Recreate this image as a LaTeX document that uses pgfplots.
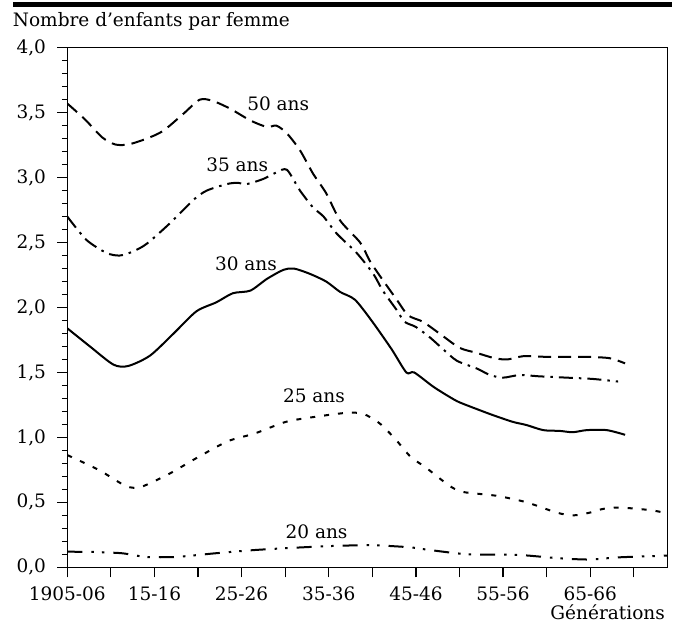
\documentclass[border=0pt]{standalone}
\usepackage{fontspec}
\setmainfont{DejaVu Serif}
\usepackage{pgfplots}
\pgfplotsset{compat=1.18}

% descendance atteinte a chaque age, par generation
\pgfplotstableread{
x y
1905 3.57
1907 3.45
1909 3.31
1910.5 3.255
1912 3.255
1914.1 3.30
1916 3.36
1918.3 3.49
1920.2 3.60
1921.7 3.59
1923.7 3.53
1926 3.44
1927.9 3.39
1929 3.40
1930.2 3.34
1931.7 3.21
1933.2 3.03
1934.7 2.88
1936.3 2.67
1938.6 2.50
1939.7 2.36
1940.9 2.24
1942.8 2.06
1944.1 1.94
1945.8 1.89
1947.7 1.80
1950 1.69
1952 1.65
1954 1.61
1955.5 1.60
1957.3 1.625
1960 1.62
1962.3 1.62
1964.6 1.62
1967.2 1.61
1969 1.57
}\ansL

\pgfplotstableread{
x y
1905 2.70
1907.2 2.52
1909.5 2.42
1911 2.40
1912.5 2.43
1914.1 2.49
1916.8 2.65
1919.5 2.83
1921 2.90
1923.3 2.95
1924.5 2.96
1925.6 2.95
1927.5 2.99
1929 3.04
1930.2 3.06
1931.7 2.90
1933.2 2.77
1934.4 2.70
1935.9 2.57
1938.2 2.42
1940.1 2.26
1941.2 2.13
1942.8 1.98
1943.7 1.89
1945 1.85
1946.6 1.77
1948.1 1.68
1949.7 1.59
1952 1.53
1953.5 1.48
1955 1.46
1956.9 1.48
1959.2 1.47
1962.3 1.46
1965.3 1.45
1968.2 1.43
}\ansXXXV

\pgfplotstableread{
x y
1905 1.84
1907.6 1.70
1910.3 1.56
1912 1.55
1914.5 1.63
1917.2 1.80
1919.8 1.97
1922.1 2.04
1924 2.11
1926 2.13
1927.9 2.22
1929.8 2.29
1931 2.30
1932.8 2.26
1934.7 2.20
1936.3 2.12
1938 2.06
1939.9 1.90
1942.2 1.68
1943.9 1.50
1944.8 1.50
1947 1.39
1948.9 1.31
1950 1.27
1952.3 1.21
1953.9 1.17
1956.1 1.12
1957.7 1.095
1959.6 1.056
1961.5 1.05
1963 1.04
1964.6 1.056
1966.9 1.056
1969 1.02
}\ansXXX

\pgfplotstableread{
x y
1905 0.864
1908.6 0.75
1911.75 0.625
1913.5 0.62
1916.7 0.72
1919.8 0.84
1923.4 0.97
1926.5 1.03
1930.1 1.12
1933.6 1.16
1937.2 1.19
1939 1.18
1940.8 1.11
1942.6 0.99
1944.4 0.85
1946.1 0.77
1948.8 0.63
1950.4 0.58
1954.3 0.55
1957.7 0.50
1961.2 0.42
1963.1 0.40
1964.9 0.42
1966.5 0.45
1968.4 0.46
1971.9 0.44
1973.9 0.415
}\ansXXV

\pgfplotstableread{
x y
1905 0.12
1908 0.118
1911.3 0.108
1914 0.08
1917.5 0.08
1922 0.108
1926.5 0.133
1930.9 0.15
1935.4 0.164
1939.9 0.17
1944.3 0.154
1946.6 0.133
1951 0.10
1956.8 0.095
1961.3 0.07
1964.9 0.06
1968.4 0.077
1973.9 0.09
}\ansXX

\begin{document}
\fontsize{18.5}{22}\selectfont
\begin{tikzpicture}
\path[use as bounding box] (0,0) rectangle (678pt,-631pt);
\fill (12.7pt,-2pt) rectangle (671.7pt,-7.3pt);
\node[anchor=base west,inner sep=0pt] at (12.7pt,-26.5pt) {Nombre d'enfants par femme};
\node[anchor=base east,inner sep=0pt] at (665pt,-619pt) {Générations};

\begin{axis}[
  at={(67.3pt,-567.3pt)}, anchor=south west,
  width=600.5pt, height=519.6pt, scale only axis,
  xmin=1905, xmax=1973.9, ymin=0, ymax=4,
  axis line style={line width=1.3pt},
  every tick/.style={line width=1.2pt, black},
  tick align=outside,
  xtick pos=bottom, ytick pos=left,
  major tick length=10pt, minor tick length=5.5pt,
  xtick={1905,1910,...,1970},
  xticklabels={1905-06,,15-16,,25-26,,35-36,,45-46,,55-56,,65-66,},
  ytick={0,0.5,...,4}, minor y tick num=4,
  /pgf/number format/assume math mode=true,
  yticklabel style={/pgf/number format/fixed, /pgf/number format/fixed zerofill,
    /pgf/number format/precision=1, /pgf/number format/use comma, xshift=-5pt},
  xticklabel style={yshift=-3pt},
  every axis plot/.append style={line width=2pt, black, smooth, tension=0.45},
  clip=true,
]
\addplot[dash pattern=on 13pt off 7pt] table {\ansL};
\addplot[dash pattern=on 14pt off 6pt on 2.5pt off 6pt] table {\ansXXXV};
\addplot[solid] table {\ansXXX};
\addplot[dash pattern=on 5pt off 9pt] table {\ansXXV};
\addplot[dash pattern=on 15pt off 9pt on 2.5pt off 8pt on 2.5pt off 9pt] table {\ansXX};

\node at (axis cs:1929.2,3.57) {50 ans};
\node at (axis cs:1924.5,3.10) {35 ans};
\node at (axis cs:1925.5,2.34) {30 ans};
\node at (axis cs:1933.3,1.32) {25 ans};
\node at (axis cs:1933.6,0.277) {20 ans};
\end{axis}
\end{tikzpicture}
\end{document}
